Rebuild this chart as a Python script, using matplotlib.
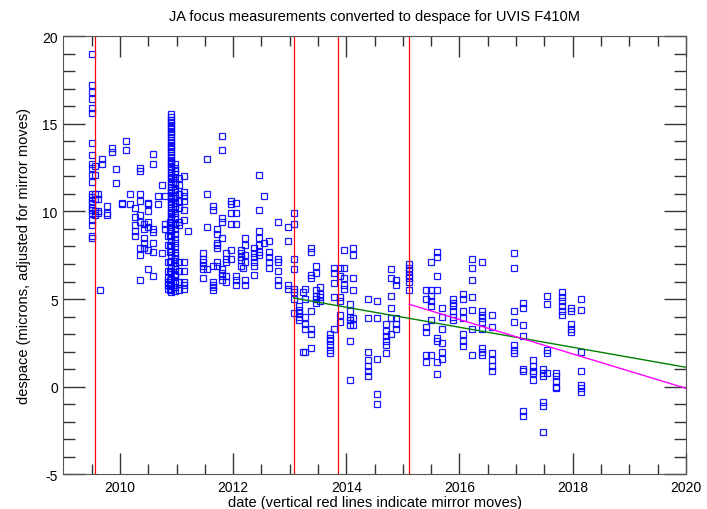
"""JA focus despace for UVIS F410M
"""

import matplotlib.pyplot as plt
import numpy as np

plt.rcParams['font.family'] = ['Liberation Sans', 'DejaVu Sans']
plt.rcParams['axes.unicode_minus'] = False

# observation epochs (decimal year) and the despace values measured at each
epochs = [2009.51, 2009.56, 2009.62, 2009.64, 2009.69, 2009.77, 2009.85, 2009.93,
          2010.03, 2010.11, 2010.18, 2010.26, 2010.35, 2010.42, 2010.50, 2010.59,
          2010.68, 2010.75, 2010.80, 2010.85, 2010.88, 2010.90, 2010.97, 2011.04,
          2011.14, 2011.20, 2011.46, 2011.54, 2011.64, 2011.65, 2011.71, 2011.80,
          2011.88, 2011.97, 2012.05, 2012.14, 2012.17, 2012.21, 2012.37, 2012.46,
          2012.54, 2012.63, 2012.80, 2012.97, 2013.08, 2013.17, 2013.23, 2013.27,
          2013.37, 2013.46, 2013.54, 2013.71, 2013.79, 2013.88, 2013.96, 2014.06,
          2014.11, 2014.38, 2014.54, 2014.71, 2014.79, 2014.88, 2015.11, 2015.41,
          2015.49, 2015.60, 2015.70, 2015.89, 2016.07, 2016.23, 2016.40, 2016.58,
          2016.96, 2017.13, 2017.30, 2017.48, 2017.55, 2017.70, 2017.82, 2017.97,
          2018.14]

despace = [
    [19.0, 17.2, 16.8, 16.4, 15.9, 15.6, 13.9, 13.2, 12.7, 12.5, 12.1, 11.7, 11.0,
     10.8, 10.6, 10.4, 10.2, 10.1, 9.9, 9.5, 9.2, 8.6, 8.5],
    [12.6, 12.1, 11.0, 10.7, 10.0, 9.8],
    [11.0, 10.7, 10.0, 9.9],
    [5.5],
    [13.0, 12.7],
    [10.3, 9.9, 9.8],
    [13.6, 13.4],
    [12.4, 11.6],
    [10.5, 10.4],
    [14.0, 13.5],
    [11.0, 10.4],
    [10.2, 9.7, 9.2, 8.9, 8.6],
    [12.5, 12.3, 11.0, 10.6, 9.8, 9.4, 7.9, 7.5, 6.1],
    [9.3, 9.0, 8.5, 8.2, 7.9],
    [10.5, 10.4, 10.0, 9.4, 9.1, 7.8, 6.7],
    [13.3, 12.7, 9.0, 8.8, 8.2, 7.7, 6.3],
    [10.9, 10.4],
    [11.5, 7.6],
    [10.9, 9.3, 9.0],
    [8.6, 8.1, 7.1, 6.6, 6.2, 6.0, 5.8, 5.6],
    [9.4, 9.2, 9.0, 8.6, 8.1, 7.7, 7.1, 6.6, 6.1, 5.8, 5.5],
    [15.55, 15.4, 15.25, 15.1, 14.95, 14.8, 14.7, 14.55, 14.4, 14.25, 14.1, 13.95,
     13.8, 13.7, 13.55, 13.4, 13.25, 13.1, 12.95, 12.85, 12.7, 12.55, 12.4, 12.25,
     12.1, 11.95, 11.85, 11.7, 11.55, 11.4, 11.25, 11.1, 10.95, 10.85, 10.7, 10.55,
     10.4, 10.25, 10.1, 9.95, 9.85, 9.7, 9.55, 9.4, 9.25, 9.1, 8.9, 8.6, 8.3, 8.05,
     7.75, 7.5, 7.15, 6.8, 6.55, 6.15, 5.85, 5.55, 5.4],
    [12.7, 12.5, 12.3, 12.15, 11.9, 11.7, 11.55, 11.3, 11.1, 10.9, 10.75, 10.5,
     10.3, 10.15, 9.9, 9.7, 9.55, 9.3, 9.0, 8.7, 8.45, 8.2, 7.95, 7.7, 7.5, 7.3,
     7.05, 6.9, 6.7, 6.45, 6.3, 6.05, 5.9, 5.7, 5.45],
    [11.9, 11.5, 11.0, 10.6, 10.2, 9.4, 9.2, 7.1, 6.6, 6.0, 5.5],
    [12.0, 11.1, 10.9, 10.6, 10.1, 9.5, 7.1, 6.6, 6.0, 5.8, 5.6],
    [8.9],
    [7.6, 7.3, 7.1, 6.9, 6.7, 6.2],
    [13.0, 11.0, 9.1, 6.7],
    [6.0, 5.8, 5.7, 5.5],
    [10.3, 10.1, 6.9],
    [9.0, 8.7, 8.2, 8.1, 7.9, 7.1, 6.9],
    [14.3, 13.5, 9.6, 9.4, 8.5, 6.7, 6.5, 6.3, 6.1],
    [7.6, 7.3, 7.1, 6.3, 6.0],
    [10.6, 10.4, 9.9, 9.3, 7.8, 7.3],
    [10.5, 9.9, 9.3, 6.3, 6.1, 5.8],
    [7.8, 7.6, 7.4, 7.2, 6.9],
    [6.8],
    [8.5, 8.1, 7.5, 7.1, 6.1, 5.8],
    [7.9, 7.6, 7.4, 7.1, 6.9, 6.4],
    [12.1, 10.1, 8.9, 8.5, 8.1, 7.7, 7.5],
    [10.9, 8.2],
    [8.3, 7.7, 7.4, 7.1, 6.8],
    [9.4, 7.3, 7.1, 6.6, 6.1, 5.8],
    [9.1, 8.3, 5.8, 5.6],
    [9.9, 9.3, 7.3, 6.7, 5.6, 5.4, 5.0, 4.2],
    [4.6, 4.4, 4.2, 4.0, 3.8],
    [5.4, 2.0],
    [5.6, 5.0, 4.0, 3.6, 3.3, 2.0],
    [7.9, 7.7, 6.4, 6.2, 4.3, 3.3, 3.0, 2.2],
    [6.9, 6.5, 5.5, 5.2, 5.0, 4.8],
    [5.7, 5.3, 5.1, 4.9],
    [3.0, 2.8, 2.6, 2.4, 2.1, 1.9],
    [6.8, 6.5, 5.9, 5.1, 3.3],
    [6.8, 6.3, 5.1, 4.9, 4.1, 3.7],
    [7.8, 6.8, 6.2, 5.8, 5.6],
    [4.7, 4.3, 4.0, 3.8, 3.5, 2.6, 0.4],
    [7.9, 7.5, 6.2, 5.5, 3.9, 3.5],
    [5.0, 3.9, 2.0, 1.5, 1.2, 0.9, 0.6],
    [4.9, 3.9, 1.6, -0.4, -1.0],
    [3.6, 3.2, 2.9, 2.6, 2.4, 1.9],
    [6.7, 6.2, 5.2, 4.5, 3.9, 3.0],
    [6.1, 5.8, 3.9, 3.6, 3.3],
    [7.0, 6.8, 6.6, 6.4, 6.2, 6.0, 5.5],
    [5.5, 5.0, 3.4, 3.1, 1.8, 1.4],
    [7.1, 5.5, 5.2, 4.9, 4.6, 3.8, 1.8],
    [7.7, 7.4, 6.3, 5.5, 2.8, 2.6, 1.4, 0.7],
    [4.5, 4.0, 3.3, 2.5, 2.0, 1.6],
    [5.0, 4.8, 4.6, 4.3, 4.0, 3.8],
    [5.3, 5.0, 4.3, 3.9, 3.0, 2.6, 2.3],
    [7.3, 6.8, 6.1, 5.1, 4.4, 3.3, 1.8],
    [7.1, 4.3, 4.1, 3.9, 3.7, 3.3, 2.2, 2.0, 1.8],
    [4.1, 3.4, 1.9, 1.5, 1.2, 0.9],
    [7.6, 6.8, 4.3, 3.7, 2.4, 2.1, 1.9],
    [4.8, 4.5, 3.5, 2.9, 1.0, 0.9, -1.4, -1.7],
    [1.5, 1.2, 0.9, 0.8, 0.4],
    [1.0, 0.8, 0.6, -0.9, -1.1, -2.6],
    [5.2, 4.7, 2.1, 1.9, 0.8],
    [0.8, 0.6, 0.3, 0.0, -0.1],
    [5.4, 5.1, 4.9, 4.6, 4.3, 4.1],
    [4.5, 4.3, 3.6, 3.3, 3.1],
    [5.0, 4.4, 2.0, 0.9, 0.1, -0.1, -0.3],
]

# mirror moves
moves = [2009.56, 2013.07, 2013.86, 2015.11]

# linear trends: (start year, value at start, value at 2020)
trend_green = (2013.07, 5.06, 1.1)
trend_magenta = (2015.11, 4.7, -0.1)

x = np.concatenate([[t] * len(v) for t, v in zip(epochs, despace)])
y = np.concatenate(despace)

fig = plt.figure(figsize=(7.07, 5.10), dpi=100)
ax = fig.add_axes([0.0897, 0.0686, 0.8803, 0.8579])

ax.plot(x, y, 's', ms=3.8, mfc='none', mec='#0000ff', mew=0.9, alpha=0.9)

for m in moves:
    ax.axvline(m, color='red', lw=0.9)

for (t0, v0, v1), c in [(trend_green, 'green'), (trend_magenta, 'magenta')]:
    ax.plot([t0, 2020], [v0, v1], color=c, lw=1)

ax.set_xlim(2009, 2020)
ax.set_ylim(-5, 20)
ax.set_xticks(np.arange(2010, 2021, 2))
ax.set_xticks(np.arange(2009.5, 2020, 0.5), minor=True)
ax.set_yticks(np.arange(-5, 21, 5))
ax.set_yticks(np.arange(-5, 21, 1), minor=True)
ax.tick_params(axis='both', which='both', direction='in', top=True, right=True,
               color='#333333', width=1, labelsize=10, pad=4)
ax.tick_params(axis='x', which='major', length=15)
ax.tick_params(axis='x', which='minor', length=7)
ax.tick_params(axis='y', which='major', length=16)
ax.tick_params(axis='y', which='minor', length=8.5)
for s in ax.spines.values():
    s.set_color('#555555')

ax.set_title('JA focus measurements converted to despace for UVIS F410M', fontsize=10.5, pad=12)
ax.set_xlabel('date (vertical red lines indicate mirror moves)', fontsize=10.5, labelpad=1)
ax.set_ylabel('despace (microns, adjusted for mirror moves)', fontsize=10.5, labelpad=8)

plt.savefig('out.png', dpi=100)
